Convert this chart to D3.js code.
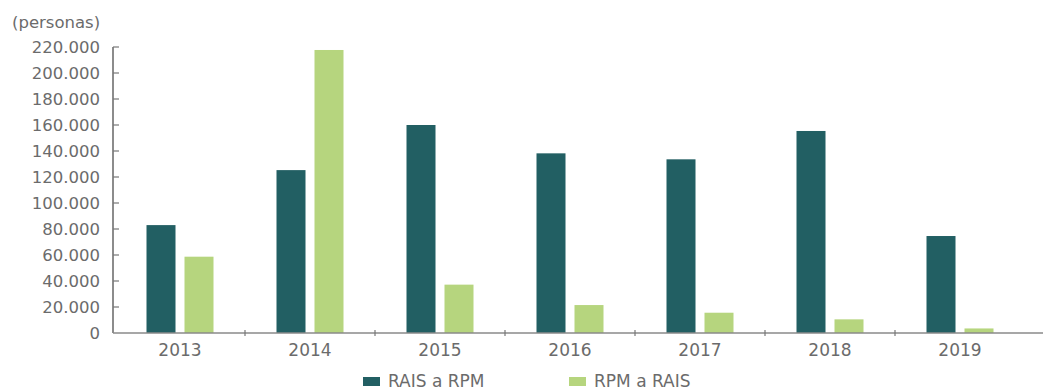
<!DOCTYPE html>
<html>
<head>
<meta charset="utf-8">
<script src="https://cdn.jsdelivr.net/npm/d3@7"></script>
<style>
  body { margin: 0; background: #fff; }
  text { font-family: "DejaVu Sans", sans-serif; fill: #6b6b6b; }
</style>
</head>
<body>
<div id="chart"></div>
<script>
const years = ['2013', '2014', '2015', '2016', '2017', '2018', '2019'];
const seriesNames = ['RAIS a RPM', 'RPM a RAIS'];
const raisToRpm = [83000, 125300, 160000, 138200, 133600, 155400, 74600];
const rpmToRais = [58700, 217700, 37200, 21500, 15600, 10500, 3500];
const yTicks = [0, 20000, 40000, 60000, 80000, 100000, 120000, 140000, 160000, 180000, 200000, 220000];
const colors = ['#225f63', '#b6d57e'];

const width = 1043, height = 391;
const svg = d3.select('#chart').append('svg')
    .attr('width', width)
    .attr('height', height);

const x = d3.scaleBand().domain(years).range([115, 1025]);
const y = d3.scaleLinear().domain([0, 220000]).range([333, 47]);
const fmt = d => d3.format(',')(d).replace(/,/g, '.');

// bars
const barW = 29, gap = 9;
const series = [raisToRpm, rpmToRais];
series.forEach((vals, s) => {
    svg.append('g').selectAll('rect')
        .data(vals)
        .join('rect')
        .attr('x', (d, i) => x(years[i]) + x.bandwidth() / 2 - barW - gap / 2 + s * (barW + gap))
        .attr('y', d => y(d))
        .attr('width', barW)
        .attr('height', d => y(0) - y(d))
        .attr('fill', colors[s]);
});

// y axis
const yAxis = svg.append('g').attr('transform', 'translate(113,0)');
yAxis.append('line')
    .attr('y1', y(220000)).attr('y2', y(0))
    .attr('stroke', '#666').attr('stroke-width', 1.5);
yAxis.selectAll('line.tick')
    .data(yTicks.slice(1))
    .join('line')
    .attr('class', 'tick')
    .attr('x1', 0).attr('x2', 6)
    .attr('y1', d => y(d)).attr('y2', d => y(d))
    .attr('stroke', '#777').attr('stroke-width', 1.2);
yAxis.selectAll('text')
    .data(yTicks)
    .join('text')
    .attr('x', -13)
    .attr('y', d => y(d))
    .attr('dy', '0.36em')
    .attr('text-anchor', 'end')
    .style('font-size', '16.5px')
    .text(fmt);

// x axis
svg.append('line')
    .attr('x1', 113).attr('x2', width)
    .attr('y1', y(0)).attr('y2', y(0))
    .attr('stroke', '#8a8a8a').attr('stroke-width', 1.5);
svg.append('g').selectAll('line')
    .data(years.slice(1))
    .join('line')
    .attr('x1', d => x(d)).attr('x2', d => x(d))
    .attr('y1', y(0) - 3).attr('y2', y(0) + 3)
    .attr('stroke', '#777').attr('stroke-width', 1.2);
svg.append('g').selectAll('text')
    .data(years)
    .join('text')
    .attr('x', d => x(d) + x.bandwidth() / 2)
    .attr('y', 356)
    .attr('text-anchor', 'middle')
    .style('font-size', '17px')
    .text(d => d);

// unit label
svg.append('text')
    .attr('x', 12).attr('y', 28)
    .style('font-size', '16.5px')
    .text('(personas)');

// legend
const legendX = [363, 569];
seriesNames.forEach((name, i) => {
    const lg = svg.append('g').attr('transform', `translate(${legendX[i]},377)`);
    lg.append('rect').attr('width', 17).attr('height', 9).attr('fill', colors[i]);
    lg.append('text').attr('x', 25).attr('y', 10).style('font-size', '17px').text(name);
});
</script>
</body>
</html>
